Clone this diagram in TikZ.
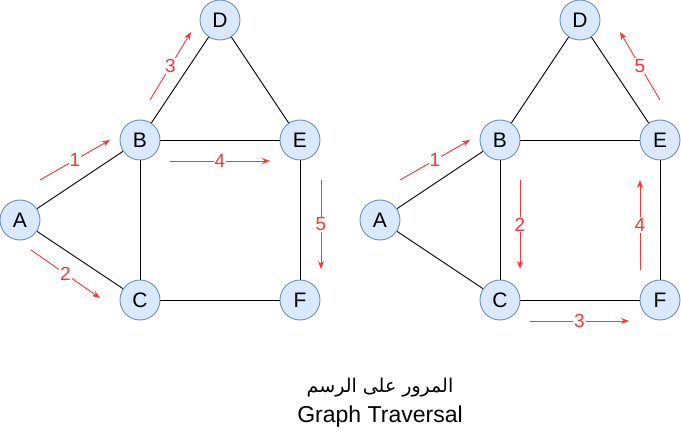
\documentclass[tikz,border=0pt]{standalone}
\usepackage{fontspec}
\setmainfont{Liberation Sans}
\newfontfamily\arabicfont[Script=Arabic]{DejaVu Sans}
\TeXXeTstate=1
\usetikzlibrary{arrows.meta}
\definecolor{nodefill}{HTML}{DAE8FC}
\definecolor{nodedraw}{HTML}{6C8EBF}
\definecolor{arrred}{HTML}{FF3333}
\begin{document}
\begin{tikzpicture}[x=1pt,y=-1pt,
  vertex/.style={circle,draw=nodedraw,fill=nodefill,line width=0.9pt,minimum size=40pt,inner sep=0pt,font=\fontsize{21}{23}\selectfont},
  edge/.style={draw=black,line width=0.9pt},
  trav/.style={draw=arrred,line width=0.9pt,-{Stealth[length=8pt,width=6pt]}},
  lbl/.style={fill=white,text=arrred,inner sep=1pt,font=\fontsize{19}{21}\selectfont}]
\useasboundingbox (0,0) rectangle (681,441);
% left graph
\node[vertex] (A1) at (20,220) {A};
\node[vertex] (B1) at (140,140) {B};
\node[vertex] (C1) at (140,300) {C};
\node[vertex] (D1) at (220,20) {D};
\node[vertex] (E1) at (300,140) {E};
\node[vertex] (F1) at (300,300) {F};
\draw[edge] (A1) -- (B1);
\draw[edge] (A1) -- (C1);
\draw[edge] (B1) -- (D1);
\draw[edge] (D1) -- (E1);
\draw[edge] (B1) -- (E1);
\draw[edge] (B1) -- (C1);
\draw[edge] (E1) -- (F1);
\draw[edge] (C1) -- (F1);
% right graph
\node[vertex] (A2) at (380,220) {A};
\node[vertex] (B2) at (500,140) {B};
\node[vertex] (C2) at (500,300) {C};
\node[vertex] (D2) at (580,20) {D};
\node[vertex] (E2) at (660,140) {E};
\node[vertex] (F2) at (660,300) {F};
\draw[edge] (A2) -- (B2);
\draw[edge] (A2) -- (C2);
\draw[edge] (B2) -- (D2);
\draw[edge] (D2) -- (E2);
\draw[edge] (B2) -- (E2);
\draw[edge] (B2) -- (C2);
\draw[edge] (E2) -- (F2);
\draw[edge] (C2) -- (F2);
% left traversal arrows
\coordinate (l1s) at (40,180); \coordinate (l1e) at (110,140);
\coordinate (l2s) at (31,250); \coordinate (l2e) at (100,298);
\coordinate (l3s) at (150,100); \coordinate (l3e) at (191,32);
\coordinate (l4s) at (170,161); \coordinate (l4e) at (270,161);
\coordinate (l5s) at (321,180); \coordinate (l5e) at (321,269);
\draw[trav] (l1s) -- node[lbl]{1} (l1e);
\draw[trav] (l2s) -- node[lbl]{2} (l2e);
\draw[trav] (l3s) -- node[lbl]{3} (l3e);
\draw[trav] (l4s) -- node[lbl]{4} (l4e);
\draw[trav] (l5s) -- node[lbl]{5} (l5e);
% right traversal arrows
\coordinate (r1s) at (400,180); \coordinate (r1e) at (470,140);
\coordinate (r2s) at (520,180); \coordinate (r2e) at (520,269);
\coordinate (r3s) at (530,321); \coordinate (r3e) at (629,321);
\coordinate (r4s) at (640,270); \coordinate (r4e) at (640,180);
\coordinate (r5s) at (660,100); \coordinate (r5e) at (620,32);
\draw[trav] (r1s) -- node[lbl]{1} (r1e);
\draw[trav] (r2s) -- node[lbl]{2} (r2e);
\draw[trav] (r3s) -- node[lbl]{3} (r3e);
\draw[trav] (r4s) -- node[lbl]{4} (r4e);
\draw[trav] (r5s) -- node[lbl]{5} (r5e);
% caption
\node[anchor=base,inner sep=0pt,font=\fontsize{19}{21}\selectfont] (cap1) at (380,392) {\arabicfont\beginR المرور على الرسم\endR};
\node[anchor=base,inner sep=0pt,font=\fontsize{23}{25}\selectfont] (cap2) at (380,422) {Graph Traversal};
\end{tikzpicture}
\end{document}
